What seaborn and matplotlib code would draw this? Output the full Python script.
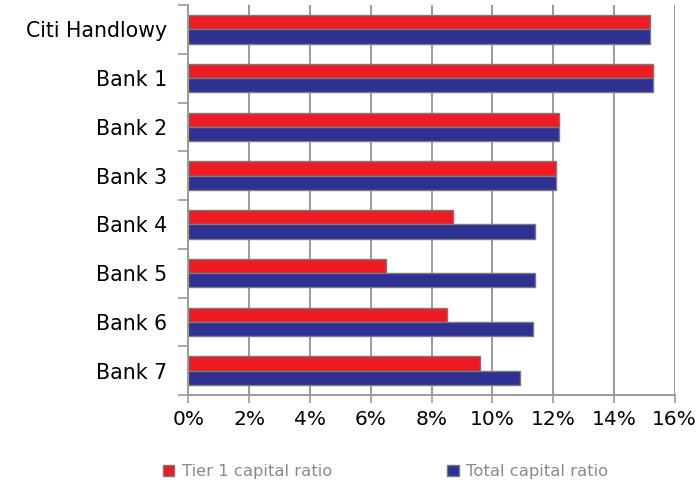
import matplotlib
matplotlib.use("Agg")
import matplotlib.pyplot as plt
from matplotlib.ticker import FixedLocator, FuncFormatter
import seaborn as sns
import pandas as pd

# Capital adequacy ratios (%) by bank
banks = ["Citi Handlowy", "Bank 1", "Bank 2", "Bank 3",
         "Bank 4", "Bank 5", "Bank 6", "Bank 7"]
tier1_ratio = [15.2, 15.3, 12.2, 12.1, 8.7, 6.5, 8.5, 9.6]
total_ratio = [15.2, 15.3, 12.2, 12.1, 11.4, 11.4, 11.35, 10.9]
series_names = ["Tier 1 capital ratio", "Total capital ratio"]
x_ticks = [0, 2, 4, 6, 8, 10, 12, 14, 16]

RED = "#ED1C24"
BLUE = "#2E3192"
GRID = "#9a9a9a"

df = pd.DataFrame({
    "bank": banks * 2,
    "ratio": tier1_ratio + total_ratio,
    "series": [series_names[0]] * len(banks) + [series_names[1]] * len(banks),
})

sns.set_style("white")
plt.rcParams["font.family"] = ["DejaVu Sans"]

fig = plt.figure(figsize=(6.98, 4.82), dpi=100)
ax = fig.add_axes([0.2698, 0.1805, 0.6968, 0.8091])

sns.barplot(data=df, y="bank", x="ratio", hue="series", order=banks,
            hue_order=series_names, palette=[RED, BLUE], orient="h",
            width=0.58, edgecolor="#7a7a7a", linewidth=1.0,
            saturation=1, ax=ax, legend=True)

ax.set_xlim(0, 16)
ax.set_ylim(len(banks) - 0.5, -0.5)
ax.xaxis.set_major_locator(FixedLocator(x_ticks))
ax.xaxis.set_major_formatter(FuncFormatter(lambda v, p: f"{v:.0f}%"))
ax.set_axisbelow(True)
ax.grid(axis="x", color=GRID, linewidth=1.4)
ax.grid(axis="y", visible=False)
ax.set_xlabel("")
ax.set_ylabel("")

# category labels centred, tick marks on category boundaries
ax.yaxis.set_minor_locator(FixedLocator([i - 0.5 for i in range(len(banks) + 1)]))
ax.tick_params(axis="y", which="major", length=0, pad=15, labelsize=14.8,
               labelcolor="black")
ax.tick_params(axis="y", which="minor", left=True, length=7, width=1.2,
               color=GRID)
ax.tick_params(axis="x", which="major", bottom=True, length=6, width=1.2,
               color=GRID, pad=5, labelsize=14.5, labelcolor="black")

for side in ["top", "right"]:
    ax.spines[side].set_visible(False)
for side in ["left", "bottom"]:
    ax.spines[side].set_color(GRID)
    ax.spines[side].set_linewidth(1.4)

handles, labels = ax.get_legend_handles_labels()
ax.get_legend().remove()
leg = fig.legend(handles, labels, loc="center", bbox_to_anchor=(0.552, 0.021),
                 ncol=2, frameon=False, fontsize=11.8, handlelength=0.72,
                 handleheight=0.72, handletextpad=0.45, columnspacing=7.0,
                 labelcolor="#8a8a8a")
for h in leg.legend_handles:
    h.set_edgecolor("#7a7a7a")
    h.set_linewidth(1.0)

fig.savefig("out.png", dpi=100)
